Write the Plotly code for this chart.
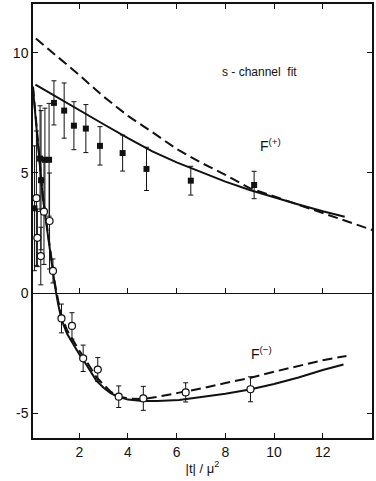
import plotly.graph_objects as go

# ---- data ----
# F(+) measured points (filled squares)
fp_x = [0.16, 0.39, 0.43, 0.59, 0.76, 0.96, 1.38, 1.78, 2.27, 2.85, 3.78, 4.76, 6.58, 9.18]
fp_y = [3.53, 5.60, 4.70, 5.55, 5.55, 7.92, 7.60, 6.97, 6.85, 6.13, 5.83, 5.17, 4.68, 4.50]
fp_err = [2.6, 2.2, 2.9, 2.15, 2.35, 0.92, 1.15, 1.0, 1.0, 0.8, 0.75, 0.9, 0.6, 0.57]

# F(-) measured points (open circles)
fm_x = [0.24, 0.28, 0.42, 0.55, 0.78, 0.92, 1.27, 1.70, 2.16, 2.76, 3.62, 4.63, 6.37, 9.03]
fm_y = [3.95, 2.30, 1.54, 3.39, 3.00, 0.92, -1.06, -1.37, -2.72, -3.19, -4.32, -4.39, -4.14, -4.01]
fm_err = [2.8, 1.2, 1.2, 2.2, 2.0, 0.5, 0.6, 0.55, 0.55, 0.5, 0.45, 0.5, 0.4, 0.52]

# F(+) fit curves
fp_solid_x = [0.2, 1.0, 2.0, 3.0, 4.0, 5.0, 6.0, 7.0, 8.0, 9.0, 10.0, 11.0, 12.0, 12.9]
fp_solid_y = [8.68, 8.2, 7.6, 7.03, 6.45, 5.9, 5.44, 5.03, 4.64, 4.29, 3.98, 3.69, 3.41, 3.18]
fp_dash_x = [0.22, 1.0, 2.0, 3.0, 4.0, 5.0, 6.0, 7.0, 8.0, 9.0, 10.0, 11.0, 12.0, 13.0, 14.05]
fp_dash_y = [10.6, 9.95, 9.08, 8.18, 7.38, 6.7, 6.0, 5.43, 4.92, 4.37, 4.03, 3.67, 3.34, 3.01, 2.62]

# F(-) fit curves
fm_solid_x = [0.1, 0.3, 0.5, 0.7, 0.9, 1.0, 1.13, 1.27, 1.5, 1.7, 2.0, 2.3, 2.7, 3.0, 3.3, 3.6,
              4.0, 4.6, 5.2, 6.1, 7.0, 8.0, 9.0, 10.0, 11.0, 12.0, 12.85]
fm_solid_y = [8.5, 6.1, 4.0, 2.5, 1.0, 0.3, -0.45, -1.1, -1.7, -2.05, -2.55, -3.0, -3.65, -3.95,
              -4.18, -4.32, -4.44, -4.5, -4.5, -4.46, -4.35, -4.2, -4.02, -3.79, -3.52, -3.21, -2.98]
fm_dash_x = [0.1, 0.3, 0.5, 0.7, 0.9, 1.0, 1.13, 1.27, 1.5, 1.7, 2.0, 2.3, 2.7, 3.0, 3.3, 3.6,
             4.0, 4.6, 5.2, 6.1, 7.0, 8.0, 9.0, 10.0, 11.0, 12.0, 12.97]
fm_dash_y = [8.6, 6.2, 4.1, 2.6, 1.1, 0.4, -0.3, -0.95, -1.55, -1.9, -2.4, -2.85, -3.5, -3.82,
             -4.12, -4.3, -4.4, -4.42, -4.33, -4.15, -3.98, -3.75, -3.54, -3.28, -3.04, -2.8, -2.62]

x_ticks = [2, 4, 6, 8, 10, 12]
y_ticks = [-5, 0, 5, 10]
x_range = [0.1, 14.02]
y_range = [-6.04, 12.04]

FONT = "Liberation Sans, Arial, sans-serif"
INK = "#111111"

fig = go.Figure()

line_w = 2
dash_style = "10px,5px"

fig.add_trace(go.Scatter(x=fp_dash_x, y=fp_dash_y, mode="lines",
                         line=dict(color=INK, width=line_w, dash=dash_style), showlegend=False))
fig.add_trace(go.Scatter(x=fp_solid_x, y=fp_solid_y, mode="lines",
                         line=dict(color=INK, width=line_w), showlegend=False))
fig.add_trace(go.Scatter(x=fm_dash_x, y=fm_dash_y, mode="lines",
                         line=dict(color=INK, width=line_w, dash=dash_style), showlegend=False))
fig.add_trace(go.Scatter(x=fm_solid_x, y=fm_solid_y, mode="lines",
                         line=dict(color=INK, width=line_w), showlegend=False))

fig.add_trace(go.Scatter(x=fp_x, y=fp_y, mode="markers",
                         marker=dict(symbol="square", size=6, color=INK),
                         error_y=dict(type="data", array=fp_err, visible=True,
                                      color=INK, thickness=1, width=2.5),
                         showlegend=False))
fig.add_trace(go.Scatter(x=fm_x, y=fm_y, mode="markers",
                         marker=dict(symbol="circle", size=7, color="white",
                                     line=dict(color=INK, width=1.2)),
                         error_y=dict(type="data", array=fm_err, visible=True,
                                      color=INK, thickness=1, width=2.5),
                         showlegend=False))

# invisible trace that anchors the zero-line axis
fig.add_trace(go.Scatter(x=[], y=[], xaxis="x2", yaxis="y", showlegend=False))

zero_pos = (0 - y_range[0]) / (y_range[1] - y_range[0])

fig.update_layout(
    width=376, height=481,
    margin=dict(l=33, r=2, t=4, b=43),
    paper_bgcolor="white", plot_bgcolor="white",
    font=dict(family=FONT, color=INK, size=14),
    xaxis=dict(range=x_range, tickvals=x_ticks, ticktext=[str(v) for v in x_ticks],
               ticks="inside", ticklen=5, tickwidth=1.2, tickcolor=INK,
               showline=True, linecolor=INK, linewidth=1.5, mirror="ticks",
               showgrid=False, zeroline=False,
               tickfont=dict(size=14, family=FONT),
               title=dict(text="|t| / \u03bc<sup>2</sup>", font=dict(size=13, family=FONT), standoff=5)),
    xaxis2=dict(range=x_range, overlaying="x", anchor="free", position=zero_pos,
                tickvals=x_ticks, ticks="inside", ticklen=5, tickwidth=1.2, tickcolor=INK,
                showticklabels=False, showline=True, linecolor=INK, linewidth=1.3,
                showgrid=False, zeroline=False),
    yaxis=dict(range=y_range, tickvals=y_ticks, ticktext=["-5", "0", "5", "10"],
               ticks="inside", ticklen=5, tickwidth=1.2, tickcolor=INK,
               showline=True, linecolor=INK, linewidth=1.5, mirror="ticks",
               showgrid=False, zeroline=False,
               tickfont=dict(size=14, family=FONT)),
)

fig.add_annotation(x=9.4, y=9.2, text="s - channel  fit", showarrow=False,
                   font=dict(size=12, family=FONT, color=INK))
fig.add_annotation(x=9.85, y=6.15, text="F<sup>(+)</sup>", showarrow=False,
                   font=dict(size=14, family=FONT, color=INK))
fig.add_annotation(x=9.5, y=-2.5, text="F<sup>(\u2212)</sup>", showarrow=False,
                   font=dict(size=14, family=FONT, color=INK))

fig.write_html("out.html")
